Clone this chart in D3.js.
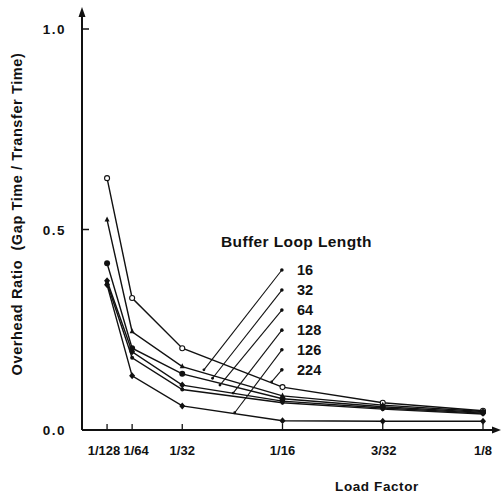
<!DOCTYPE html>
<html>
<head>
<meta charset="utf-8">
<script src="https://cdn.jsdelivr.net/npm/d3@7"></script>
<style>
  body { margin: 0; background: #fff; }
  svg { display: block; }
  text { font-family: "Liberation Sans", Arial, sans-serif; font-weight: bold; fill: #111; }
</style>
</head>
<body>
<div id="chart"></div>
<script>
// Load factor categories (x positions are the actual fractions)
const loads = [1 / 128, 1 / 64, 1 / 32, 1 / 16, 3 / 32, 1 / 8];
const loadLabels = ["1/128", "1/64", "1/32", "1/16", "3/32", "1/8"];
const yTicks = [0, 0.5, 1.0];

// Overhead ratio per buffer loop length
const s16 = [0.628, 0.329, 0.204, 0.107, 0.068, 0.048];
const s32 = [0.524, 0.245, 0.158, 0.085, 0.062, 0.046];
const s64 = [0.416, 0.204, 0.140, 0.078, 0.058, 0.044];
const s128 = [0.372, 0.195, 0.112, 0.072, 0.055, 0.042];
const s126 = [0.366, 0.180, 0.101, 0.068, 0.052, 0.040];
const s224 = [0.362, 0.135, 0.060, 0.023, 0.022, 0.022];
const series = [s16, s32, s64, s128, s126, s224];
const markers = ["open", "triangle", "circle", "diamond", "dot", "diamond"];

// Legend labels + leader lines (in data units)
const legendLabels = ["16", "32", "64", "128", "126", "224"];
const legendY = [0.399, 0.349, 0.299, 0.249, 0.200, 0.150];
const legendX = 0.0623;
const leaderEndX = [0.0380, 0.0407, 0.0430, 0.0471, 0.0476, 0.0591];
const leaderEndY = [0.150, 0.129, 0.112, 0.092, 0.043, 0.120];

const width = 502, height = 494;
const svg = d3.select('#chart').append('svg')
    .attr('width', width)
    .attr('height', height);

const x = d3.scaleLinear().domain([0, 0.125]).range([82, 483]);
const y = d3.scaleLinear().domain([0, 1]).range([430, 29]);

// axes
svg.append('line')
    .attr('x1', x(0)).attr('x2', 496)
    .attr('y1', y(0)).attr('y2', y(0))
    .attr('stroke', '#111').attr('stroke-width', 2);
svg.append('path')
    .attr('d', `M501,${y(0)} L492,${y(0) - 3.5} L492,${y(0) + 3.5} Z`)
    .attr('fill', '#111');
svg.append('line')
    .attr('x1', x(0)).attr('x2', x(0))
    .attr('y1', y(0)).attr('y2', 14)
    .attr('stroke', '#111').attr('stroke-width', 2);
svg.append('path')
    .attr('d', `M${x(0)},7 L${x(0) - 3.5},17 L${x(0) + 3.5},17 Z`)
    .attr('fill', '#111');

// y ticks
svg.selectAll('.ytick').data(yTicks).join('line')
    .attr('x1', x(0)).attr('x2', x(0) + 7)
    .attr('y1', d => y(d)).attr('y2', d => y(d))
    .attr('stroke', '#111').attr('stroke-width', 1.5);
svg.selectAll('.ylab').data(yTicks).join('text')
    .attr('x', 66).attr('y', d => y(d) + 5)
    .attr('text-anchor', 'end')
    .attr('font-size', 13.5)
    .attr('letter-spacing', 1.5)
    .text(d => d.toFixed(1));

// x ticks
svg.selectAll('.xtick').data(loads).join('line')
    .attr('x1', d => x(d)).attr('x2', d => x(d))
    .attr('y1', y(0)).attr('y2', y(0) - 6)
    .attr('stroke', '#111').attr('stroke-width', 1.3);
const xShift = [-3, 4, 0, 0, 1, 0];
svg.selectAll('.xlab').data(loads).join('text')
    .attr('x', (d, i) => x(d) + xShift[i]).attr('y', 455)
    .attr('text-anchor', 'middle')
    .attr('font-size', 13)
    .text((d, i) => loadLabels[i]);

// axis titles
svg.append('text')
    .attr('x', 377).attr('y', 491)
    .attr('text-anchor', 'middle')
    .attr('font-size', 13.5)
    .attr('letter-spacing', 0.6)
    .text('Load Factor');
svg.append('text')
    .attr('transform', 'translate(22,214) rotate(-90)')
    .attr('text-anchor', 'middle')
    .attr('font-size', 14.5)
    .attr('letter-spacing', 0.6)
    .style('white-space', 'pre')
    .text('Overhead Ratio  (Gap Time / Transfer Time)');

// data lines
const line = d3.line()
    .x((d, i) => x(loads[i]))
    .y(d => y(d));
svg.selectAll('.series').data(series).join('path')
    .attr('d', d => line(d))
    .attr('fill', 'none')
    .attr('stroke', '#111')
    .attr('stroke-width', 1.4);

// markers
series.forEach((s, si) => {
    const m = markers[si];
    const g = svg.append('g');
    s.forEach((v, i) => {
        const cx = x(loads[i]), cy = y(v);
        if (m === 'open') {
            g.append('circle').attr('cx', cx).attr('cy', cy).attr('r', 2.5)
                .attr('fill', '#fff').attr('stroke', '#111').attr('stroke-width', 1.1);
        } else if (m === 'circle') {
            g.append('circle').attr('cx', cx).attr('cy', cy).attr('r', 3).attr('fill', '#111');
        } else if (m === 'triangle') {
            g.append('path').attr('d', `M${cx},${cy - 3.5} L${cx - 2.5},${cy + 1.5} L${cx + 2.5},${cy + 1.5} Z`)
                .attr('fill', '#111');
        } else if (m === 'diamond') {
            g.append('path').attr('d', `M${cx},${cy - 3.5} L${cx + 3},${cy} L${cx},${cy + 3.5} L${cx - 3},${cy} Z`)
                .attr('fill', '#111');
        } else {
            g.append('circle').attr('cx', cx).attr('cy', cy).attr('r', 2).attr('fill', '#111');
        }
    });
});

// legend
svg.append('text')
    .attr('x', 221).attr('y', 247)
    .attr('font-size', 15.5)
    .attr('letter-spacing', 0.4)
    .text('Buffer Loop Length');

legendLabels.forEach((lab, i) => {
    svg.append('line')
        .attr('x1', x(legendX)).attr('y1', y(legendY[i]))
        .attr('x2', x(leaderEndX[i])).attr('y2', y(leaderEndY[i]))
        .attr('stroke', '#111').attr('stroke-width', 1.1);
    svg.append('circle')
        .attr('cx', x(legendX)).attr('cy', y(legendY[i])).attr('r', 1.8)
        .attr('fill', '#111');
    svg.append('circle')
        .attr('cx', x(leaderEndX[i])).attr('cy', y(leaderEndY[i])).attr('r', 1.4)
        .attr('fill', '#111');
    svg.append('text')
        .attr('x', 297).attr('y', y(legendY[i]) + 5)
        .attr('font-size', 14.5)
        .text(lab);
});
</script>
</body>
</html>
